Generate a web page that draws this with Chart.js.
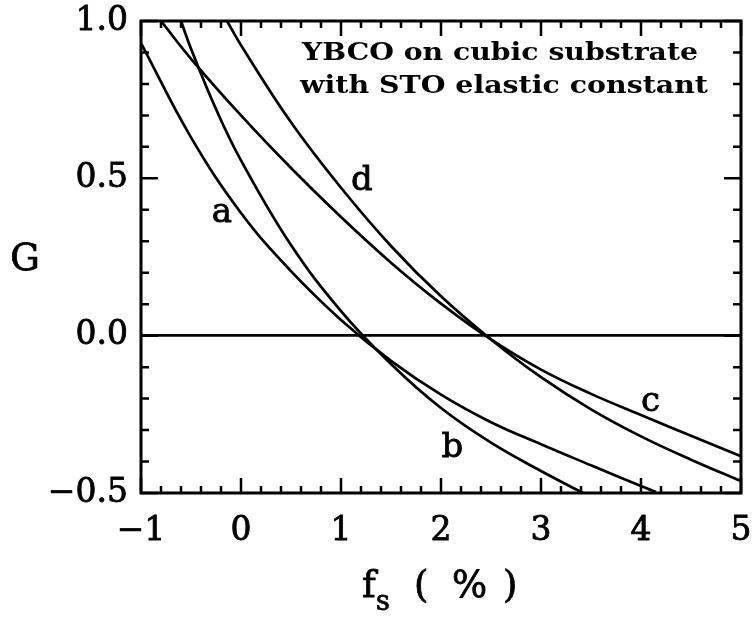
<!DOCTYPE html>
<html>
<head>
<meta charset="utf-8">
<title>G vs fs</title>
<script src="https://cdn.jsdelivr.net/npm/chart.js@4.4.0/dist/chart.umd.min.js"></script>
<style>
  html, body { margin: 0; padding: 0; background: #fff; }
  #wrap { width: 754px; height: 617px; }
</style>
</head>
<body>
<div id="wrap"><canvas id="chart" width="754" height="617"></canvas></div>
<script>
// tick values
const xTicks = [-1, 0, 1, 2, 3, 4, 5];
const yTicks = [-0.5, 0.0, 0.5, 1.0];

// curves (fs in %, G)
const aX = [-1.0, -0.5, 0.0, 0.5, 1.0, 1.5, 2.0, 2.5, 3.0, 3.5, 4.0, 4.15];
const aG = [0.93, 0.63, 0.39, 0.205, 0.05, -0.08, -0.1875, -0.275, -0.345, -0.412, -0.478, -0.497];

const bX = [-0.6, -0.5, -0.25, 0.0, 0.5, 1.0, 1.5, 2.0, 2.5, 3.0, 3.42];
const bG = [1.0, 0.912, 0.72, 0.557, 0.288, 0.078, -0.09, -0.23, -0.34, -0.43, -0.5];

const cX = [-0.8, -0.5, 0.0, 0.5, 1.0, 1.5, 2.0, 2.5, 3.0, 3.5, 4.0, 4.5, 5.0];
const cG = [1.0, 0.88, 0.70, 0.533, 0.377, 0.232, 0.102, -0.012, -0.108, -0.185, -0.252, -0.318, -0.383];

const dX = [-0.14, 0.0, 0.5, 1.0, 1.5, 2.0, 2.5, 3.0, 3.5, 4.0, 4.5, 5.0];
const dG = [1.0, 0.923, 0.678, 0.47, 0.285, 0.125, -0.012, -0.132, -0.234, -0.32, -0.394, -0.462];

// curve labels (data coords of the letter baseline centre)
const labelText = ['a', 'b', 'c', 'd'];
const labelX = [-0.19, 2.115, 4.095, 1.21];
const labelG = [0.362, -0.385, -0.239, 0.464];

const noteLines = ['YBCO on cubic substrate', 'with STO elastic constant'];

function toPoints(xs, ys) {
  return xs.map((v, i) => ({ x: v, y: ys[i] }));
}

function curve(xs, ys) {
  return {
    data: toPoints(xs, ys),
    showLine: true,
    borderColor: '#000',
    borderWidth: 2.7,
    pointRadius: 0,
    tension: 0.4,
    fill: false
  };
}

function minus(v, digits) {
  const s = digits ? Math.abs(v).toFixed(digits) : String(Math.abs(v));
  return (v < 0 ? '\u2212' : '') + s;
}

// filled text with a thin outline, so it looks a bit heavier
function heavyText(ctx, text, x, y) {
  ctx.fillText(text, x, y);
  ctx.strokeText(text, x, y);
}

// stretch text to a given width
function fitText(ctx, text, x, y, width) {
  const w = ctx.measureText(text).width;
  ctx.save();
  ctx.translate(x, y);
  ctx.scale(width / w, 1);
  ctx.fillText(text, 0, 0);
  ctx.restore();
}

const framePlugin = {
  id: 'frame',
  afterDraw(chart) {
    const ctx = chart.ctx;
    const a = chart.chartArea;
    const xs = chart.scales.x;
    const ys = chart.scales.y;
    ctx.save();
    ctx.strokeStyle = '#000';
    ctx.fillStyle = '#000';
    ctx.lineWidth = 3;
    ctx.strokeRect(a.left, a.top, a.right - a.left, a.bottom - a.top);

    // tick marks on all four sides, pointing in
    ctx.lineWidth = 2.5;
    ctx.beginPath();
    for (let i = 0; i < xTicks.length; i++) {
      const n = i < xTicks.length - 1 ? 5 : 1;
      for (let k = 0; k < n; k++) {
        const v = xTicks[i] + k * (i < xTicks.length - 1 ? (xTicks[i + 1] - xTicks[i]) / 5 : 0);
        const px = xs.getPixelForValue(v);
        const len = k === 0 ? 15 : 7;
        ctx.moveTo(px, a.bottom); ctx.lineTo(px, a.bottom - len);
        ctx.moveTo(px, a.top); ctx.lineTo(px, a.top + len);
      }
    }
    for (let i = 0; i < yTicks.length; i++) {
      const n = i < yTicks.length - 1 ? 5 : 1;
      for (let k = 0; k < n; k++) {
        const v = yTicks[i] + k * (i < yTicks.length - 1 ? (yTicks[i + 1] - yTicks[i]) / 5 : 0);
        const py = ys.getPixelForValue(v);
        const len = k === 0 ? 17 : 8;
        ctx.moveTo(a.left, py); ctx.lineTo(a.left + len, py);
        ctx.moveTo(a.right, py); ctx.lineTo(a.right - len, py);
      }
    }
    ctx.stroke();

    // curve letters
    ctx.lineWidth = 0.8;
    ctx.font = '34px "DejaVu Serif"';
    ctx.textAlign = 'center';
    ctx.textBaseline = 'alphabetic';
    labelText.forEach((t, i) => {
      heavyText(ctx, t, xs.getPixelForValue(labelX[i]), ys.getPixelForValue(labelG[i]));
    });

    // axis titles
    ctx.font = '37px "DejaVu Serif"';
    heavyText(ctx, 'G', 25, 270);
    ctx.textAlign = 'left';
    heavyText(ctx, 'f', 362, 597);
    heavyText(ctx, '(', 414, 597);
    heavyText(ctx, '%', 452, 597);
    heavyText(ctx, ')', 503, 597);
    ctx.font = '27px "DejaVu Serif"';
    heavyText(ctx, 's', 376, 610);

    // note in the upper right
    ctx.font = 'bold 25px "DejaVu Serif"';
    fitText(ctx, noteLines[0], 302, 60, 396);
    fitText(ctx, noteLines[1], 300, 93, 408);
    ctx.restore();
  }
};

new Chart(document.getElementById('chart'), {
  type: 'scatter',
  data: {
    datasets: [curve(aX, aG), curve(bX, bG), curve(cX, cG), curve(dX, dG)]
  },
  options: {
    responsive: false,
    animation: false,
    devicePixelRatio: 1,
    layout: { padding: { left: 0, top: 21, right: 13, bottom: 0 } },
    plugins: { legend: { display: false }, tooltip: { enabled: false } },
    scales: {
      x: {
        type: 'linear',
        min: xTicks[0],
        max: xTicks[xTicks.length - 1],
        afterBuildTicks: s => { s.ticks = xTicks.map(v => ({ value: v })); },
        afterFit: s => {
          s.height = 124;
          s.paddingLeft = 0; s.paddingRight = 0;
        },
        grid: { display: false, drawTicks: false },
        border: { display: false },
        ticks: {
          color: '#000',
          padding: 19,
          maxRotation: 0,
          textStrokeColor: '#000',
          textStrokeWidth: 0.8,
          font: { family: 'DejaVu Serif', size: 33 },
          callback: v => minus(v, 0)
        }
      },
      y: {
        type: 'linear',
        min: yTicks[0],
        max: yTicks[yTicks.length - 1],
        afterBuildTicks: s => { s.ticks = yTicks.map(v => ({ value: v })); },
        afterFit: s => {
          s.width = 141;
          s.paddingTop = 0; s.paddingBottom = 0;
        },
        grid: {
          drawTicks: false,
          color: c => (c.tick && c.tick.value === 0 ? '#000' : 'rgba(0,0,0,0)'),
          lineWidth: c => (c.tick && c.tick.value === 0 ? 2.7 : 0)
        },
        border: { display: false },
        ticks: {
          color: '#000',
          padding: 13,
          textStrokeColor: '#000',
          textStrokeWidth: 0.8,
          font: { family: 'DejaVu Serif', size: 33 },
          callback: v => minus(v, 1)
        }
      }
    }
  },
  plugins: [framePlugin]
});
</script>
</body>
</html>
